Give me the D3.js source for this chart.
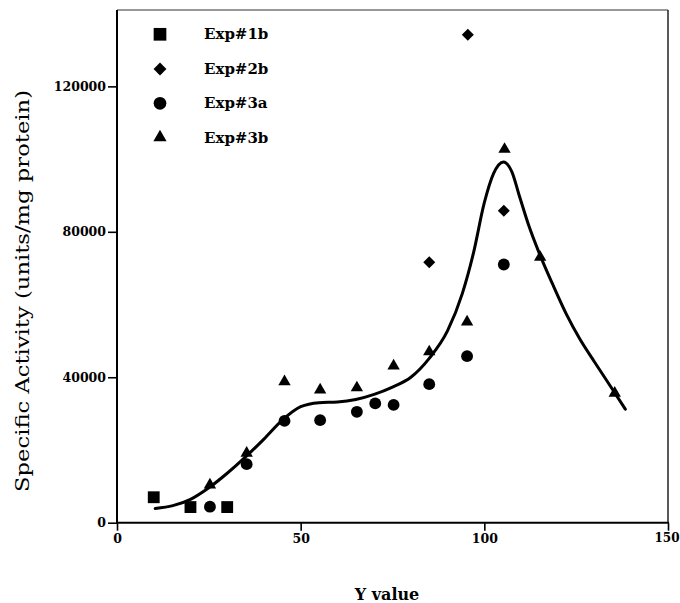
<!DOCTYPE html>
<html>
<head>
<meta charset="utf-8">
<script src="https://cdn.jsdelivr.net/npm/d3@7"></script>
<style>
  html, body { margin: 0; padding: 0; background: #fff; }
  svg { display: block; }
</style>
</head>
<body>
<div id="chart"></div>
<script>
// Series values
const exp1bX = [10, 20, 30];
const exp1bY = [7000, 4300, 4300];

const exp2bX = [85, 95.5, 105.3];
const exp2bY = [71600, 134200, 85800];

const exp3aX = [25.3, 35.3, 45.6, 55.3, 65.3, 70.3, 75.3, 85, 95.3, 105.3];
const exp3aY = [4400, 16100, 28000, 28200, 30500, 32800, 32400, 38100, 45800, 71000];

const exp3bX = [25.3, 35.3, 45.6, 55.3, 65.3, 75.3, 85, 95.3, 105.5, 115.2, 135.5];
const exp3bY = [10400, 19100, 38800, 36500, 37100, 43100, 47000, 55200, 102700, 73000, 35600];

// fitted curve through the data
const fitX = [10.4, 20, 25, 30, 35, 40, 45, 50, 55, 60, 65, 70, 75, 80, 85, 90, 94, 97, 100, 102.5,
              105.2, 107.5, 109.5, 112, 115, 118.5, 122.5, 126, 130, 135, 138.4];
const fitY = [3900, 6400, 9600, 13600, 18100, 23000, 28200, 31900, 33000, 33200, 33900, 35300, 37300, 40000, 45200, 52800, 63000, 74000, 88000, 96000,
              99200, 96500, 90000, 82000, 74000, 65800, 57000, 50500, 44200, 36500, 31200];

const seriesNames = ["Exp#1b", "Exp#2b", "Exp#3a", "Exp#3b"];
const xTicks = [0, 50, 100, 150];
const yTicks = [0, 40000, 80000, 120000];

const width = 680, height = 603;
const plotLeft = 117, plotRight = 668, plotTop = 10, plotBottom = 522.7;

const svg = d3.select('#chart').append('svg')
    .attr('width', width)
    .attr('height', height);

const x = d3.scaleLinear().domain([0, 150]).range([plotLeft, plotRight]);
const y = d3.scaleLinear().domain([0, 141000]).range([plotBottom, plotTop]);

// marker shapes
const symbolTypes = {
    "Exp#1b": d3.symbolSquare,
    "Exp#2b": d3.symbolSquare,
    "Exp#3a": d3.symbolCircle,
    "Exp#3b": d3.symbolTriangle
};
const symbolSizes = { "Exp#1b": 140, "Exp#2b": 72, "Exp#3a": 110, "Exp#3b": 66 };
const rot = name => name === "Exp#2b" ? " rotate(45)" : "";

// frame: top and right thin
svg.append('line').attr('x1', plotLeft).attr('x2', plotRight).attr('y1', plotTop).attr('y2', plotTop)
    .attr('stroke', '#333').attr('stroke-width', 1.2);
svg.append('line').attr('x1', plotRight).attr('x2', plotRight).attr('y1', plotTop).attr('y2', plotBottom)
    .attr('stroke', '#222').attr('stroke-width', 1.5);

// axes
const yAxis = svg.append('g')
    .attr('transform', `translate(${plotLeft},0)`)
    .call(d3.axisLeft(y).tickValues(yTicks).tickSize(9).tickPadding(2).tickFormat(d3.format('d')));
const xAxis = svg.append('g')
    .attr('transform', `translate(0,${plotBottom})`)
    .call(d3.axisBottom(x).tickValues(xTicks).tickSize(8).tickPadding(3).tickFormat(d3.format('d')));

[yAxis, xAxis].forEach(g => {
    g.attr('font-family', null).attr('font-size', null);
    g.select('.domain').remove();
    g.selectAll('.tick line').attr('stroke', '#000').attr('stroke-width', 1.6);
    g.selectAll('.tick text')
        .attr('font-family', '"DejaVu Serif", serif')
        .attr('font-weight', 'bold')
        .attr('font-size', 12.5)
        .attr('fill', '#000');
});
// keep the last x label inside the page edge
xAxis.selectAll('.tick text').filter(d => d === 150)
    .attr('font-size', 12)
    .attr('dx', -1.5);

svg.append('line').attr('x1', plotLeft).attr('x2', plotLeft).attr('y1', plotTop).attr('y2', plotBottom + 1)
    .attr('stroke', '#000').attr('stroke-width', 2);
svg.append('line').attr('x1', plotLeft - 1).attr('x2', plotRight + 1).attr('y1', plotBottom).attr('y2', plotBottom)
    .attr('stroke', '#000').attr('stroke-width', 2);

// fitted line
const line = d3.line()
    .x((d, i) => x(fitX[i]))
    .y((d, i) => y(fitY[i]))
    .curve(d3.curveMonotoneX);
svg.append('path')
    .datum(fitX)
    .attr('d', line)
    .attr('fill', 'none')
    .attr('stroke', '#000')
    .attr('stroke-width', 3)
    .attr('stroke-linecap', 'round')
    .attr('stroke-linejoin', 'round');

// points
const series = [
    { name: "Exp#1b", xs: exp1bX, ys: exp1bY },
    { name: "Exp#2b", xs: exp2bX, ys: exp2bY },
    { name: "Exp#3a", xs: exp3aX, ys: exp3aY },
    { name: "Exp#3b", xs: exp3bX, ys: exp3bY }
];
series.forEach(s => {
    const sym = d3.symbol().type(symbolTypes[s.name]).size(symbolSizes[s.name]);
    svg.append('g').selectAll('path')
        .data(s.xs)
        .join('path')
        .attr('d', sym())
        .attr('transform', (d, i) => `translate(${x(d)},${y(s.ys[i])})${rot(s.name)}`)
        .attr('fill', '#000');
});

// legend
const legendRows = [34.3, 69, 103.3, 137.5];
seriesNames.forEach((name, i) => {
    const sym = d3.symbol().type(symbolTypes[name]).size(symbolSizes[name] * 1.15);
    svg.append('path')
        .attr('d', sym())
        .attr('transform', `translate(160,${legendRows[i]})${rot(name)}`)
        .attr('fill', '#000');
    svg.append('text')
        .attr('x', 204)
        .attr('y', legendRows[i] + 5)
        .attr('font-family', '"DejaVu Serif", serif')
        .attr('font-weight', 'bold')
        .attr('font-size', 15)
        .text(name);
});

// axis titles
svg.append('text')
    .attr('x', 387)
    .attr('y', 600)
    .attr('text-anchor', 'middle')
    .attr('font-family', '"DejaVu Serif", serif')
    .attr('font-weight', 'bold')
    .attr('font-size', 16)
    .text('Y value');

svg.append('text')
    .attr('transform', 'translate(29,291) rotate(-90)')
    .attr('text-anchor', 'middle')
    .attr('font-family', '"DejaVu Serif", serif')
    .attr('font-size', 19)
    .attr('textLength', 402)
    .attr('lengthAdjust', 'spacingAndGlyphs')
    .text('Specific Activity (units/mg protein)');
</script>
</body>
</html>
